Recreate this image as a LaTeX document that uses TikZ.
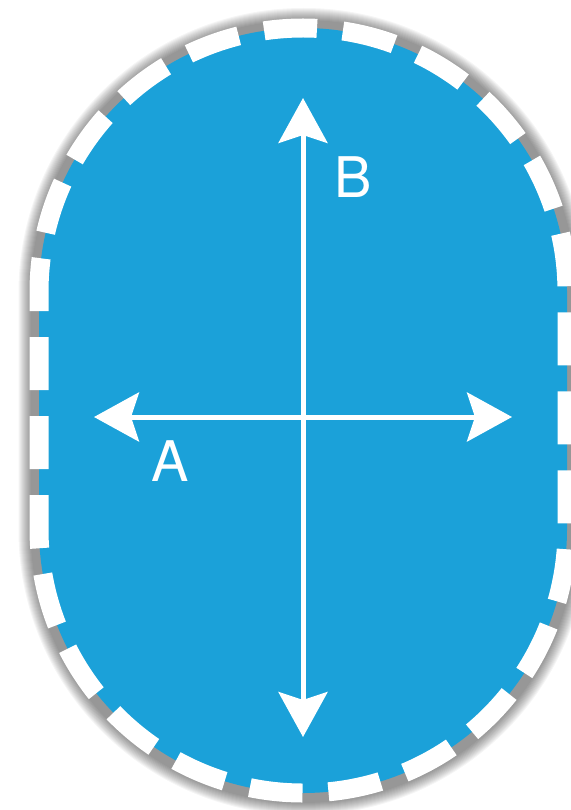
\documentclass[tikz,border=0pt]{standalone}
\usepackage{fontspec}
\setmainfont{TeX Gyre Heros}
\usetikzlibrary{arrows.meta}
\definecolor{poolblue}{RGB}{27,161,217}
\tikzset{
  stadium/.style={insert path={(303,-28) arc[start angle=90,end angle=0,radius=264pt] -- (567,-529) arc[start angle=0,end angle=-180,radius=264pt] -- (39,-292) arc[start angle=180,end angle=90,radius=264pt] -- cycle}},
  rim/.style={draw=white, line width=19pt, dash pattern=on 53pt off 26pt, dash phase=39pt},
  axis/.style={draw=white, line width=5pt, {Stealth[length=45pt,width=49pt,inset=8pt]}-{Stealth[length=45pt,width=49pt,inset=8pt]}},
  lab/.style={text=white, inner sep=0pt, font=\fontsize{56}{60}\selectfont}
}
\begin{document}
\begin{tikzpicture}[x=1pt,y=1pt]
\useasboundingbox (0,0) rectangle (570,-810);
% soft shadow
\begin{scope}[xshift=0.5pt,yshift=-1pt]
\foreach \w in {18,20,22,24,26,28,30,32,34,36,38,40,42}
  \draw[black, opacity=0.038, line width=\w pt, stadium];
\end{scope}
\fill[poolblue, stadium];
\draw[rim, stadium];
\coordinate (btop) at (303,-98);
\coordinate (bbot) at (303,-737);
\coordinate (aleft) at (94,-417);
\coordinate (aright) at (512,-417);
\draw[axis] (btop) -- (bbot);
\draw[axis] (aleft) -- (aright);
\node[lab] (B) at (353,-177) {B};
\node[lab] (A) at (170,-461) {A};
\end{tikzpicture}
\end{document}
